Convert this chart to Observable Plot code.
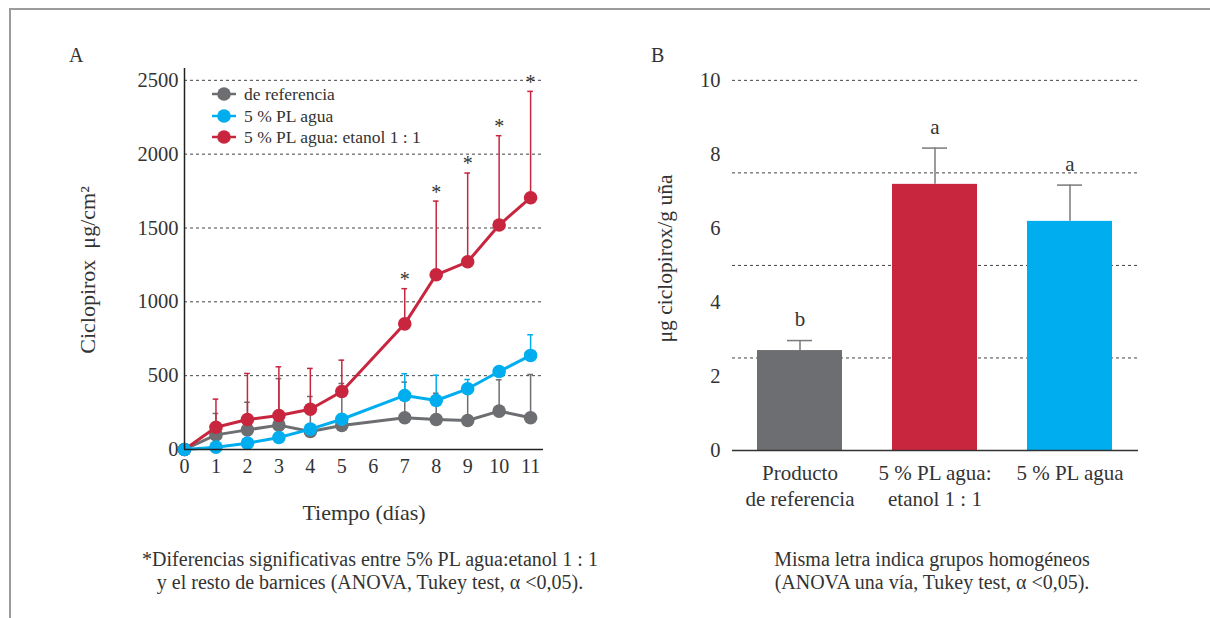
<!DOCTYPE html>
<html>
<head>
<meta charset="utf-8">
<script src="https://cdn.jsdelivr.net/npm/d3@7"></script>
<script src="https://cdn.jsdelivr.net/npm/@observablehq/plot@0.6"></script>
<style>
  html, body { margin: 0; padding: 0; background: #fff; }
  #fig { position: relative; width: 1210px; height: 618px; overflow: hidden;
         font-family: "Liberation Serif", "DejaVu Serif", serif; color: #333; }
  #fig .frame-top { position: absolute; left: 10px; top: 8px; width: 1200px; height: 2px; background: #9b9b9b; }
  #fig .frame-left { position: absolute; left: 9px; top: 8px; width: 2px; height: 610px; background: #9b9b9b; }
  .panel { position: absolute; top: 0; }
  .letter { position: absolute; font-size: 20px; }
  .caption { position: absolute; text-align: center; font-size: 20px; line-height: 23px; }
  #legend { position: absolute; left: 0; top: 0; }
</style>
</head>
<body>
<div id="fig">
  <div class="frame-top"></div>
  <div class="frame-left"></div>
  <div class="letter" style="left:69px; top:44px;">A</div>
  <div class="letter" style="left:651px; top:44px;">B</div>
  <div id="panelA" class="panel" style="left:0px;"></div>
  <div id="panelB" class="panel" style="left:610px;"></div>
  <svg id="legend" width="600" height="160"></svg>
  <div class="caption" style="left:100px; width:540px; top:548px;">*Diferencias significativas entre 5% PL agua:etanol 1 : 1<br>y el resto de barnices (ANOVA, Tukey test, α &lt;0,05).</div>
  <div class="caption" style="left:662px; width:540px; top:548px;">Misma letra indica grupos homogéneos<br>(ANOVA una vía, Tukey test, α &lt;0,05).</div>
</div>
<script>
// ---- Panel A: cumulative ciclopirox permeation (µg/cm²) over time ----
const days = [0, 1, 2, 3, 4, 5, 7, 8, 9, 10, 11];
const dayTicks = [0, 1, 2, 3, 4, 5, 6, 7, 8, 9, 10, 11];

const refMean   = [0, 99, 133, 165, 122, 163, 215, 203, 196, 260, 215];
const refUpper  = [0, 244, 320, 480, 359, 447, 456, 381, 400, 472, 508];

const aguaMean  = [0, 16, 43, 81, 138, 205, 366, 332, 411, 528, 637];
const aguaUpper = [0, 30, 60, 110, 170, 240, 513, 503, 474, 560, 777];

const etOHMean  = [0, 151, 203, 230, 273, 393, 851, 1183, 1271, 1520, 1705];
const etOHUpper = [0, 341, 515, 560, 549, 605, 1089, 1682, 1872, 2125, 2425];

const significantDays = [7, 8, 9, 10, 11];
const gridA = [500, 1000, 1500, 2000, 2500];
const ticksA = [0, 500, 1000, 1500, 2000, 2500];

const seriesA = [
  {name: "de referencia", color: "#6d6e71", mean: refMean, upper: refUpper},
  {name: "5 % PL agua", color: "#00aeef", mean: aguaMean, upper: aguaUpper},
  {name: "5 % PL agua: etanol 1 : 1", color: "#c8263e", mean: etOHMean, upper: etOHUpper}
];
const titleXA = "Tiempo (días)";
const titleYA = "Ciclopirox  μg/cm²";

// ---- Panel B: ciclopirox retained in the nail (µg/g) ----
const products = ["Producto\nde referencia", "5 % PL agua:\netanol 1 : 1", "5 % PL agua"];
const productColors = ["#6d6e71", "#c8263e", "#00aeef"];
const nailMean  = [2.70, 7.19, 6.19];
const nailUpper = [2.97, 8.17, 7.17];
const groupLetters = ["b", "a", "a"];
const gridB = [2.5, 5, 7.5, 10];
const ticksB = [0, 2, 4, 6, 8, 10];
const titleYB = "μg ciclopirox/g uña";

const font = '"Liberation Serif", "DejaVu Serif", serif';
const ink = "#333";
const plain = d => String(d);
const title = {fill: ink, fontFamily: font, textAnchor: "middle", lineAnchor: "middle"};

// tidy rows per series
const rows = s => days.map((d, i) => ({series: s.name, day: d, mean: s.mean[i], upper: s.upper[i]}));
const byName = Object.fromEntries(seriesA.map(s => [s.name, rows(s)]));
const capHalf = 0.09;

function errorMarks(s, width) {
  const r = byName[s.name].filter(d => d.upper > d.mean);
  return [
    Plot.ruleX(r, {x: "day", y1: "mean", y2: "upper", stroke: s.color, strokeWidth: width}),
    Plot.ruleY(r, {x1: d => d.day - capHalf, x2: d => d.day + capHalf, y: "upper", stroke: s.color, strokeWidth: width})
  ];
}
function lineMarks(s) {
  const r = byName[s.name];
  return [
    Plot.line(r, {x: "day", y: "mean", stroke: s.color, strokeWidth: 3}),
    Plot.dot(r, {x: "day", y: "mean", fill: s.color, r: 6.8})
  ];
}
const [sRef, sAgua, sEt] = seriesA;

const chartA = Plot.plot({
  width: 600, height: 540,
  marginLeft: 184, marginRight: 57, marginTop: 68, marginBottom: 91,
  style: {fontFamily: font, color: ink, background: "transparent", overflow: "visible"},
  x: {domain: [0, 11.41], ticks: dayTicks},
  y: {domain: [0, 2580]},
  marks: [
    Plot.ruleY(gridA, {stroke: "#444", strokeWidth: 1, strokeDasharray: "3,3"}),
    ...errorMarks(sRef, 1.5),
    ...errorMarks(sAgua, 1.5),
    ...errorMarks(sEt, 1.5),
    ...lineMarks(sRef),
    ...lineMarks(sEt),
    ...lineMarks(sAgua),
    Plot.text(byName[sEt.name].filter(d => significantDays.includes(d.day)),
      {x: "day", y: "upper", text: () => "*", dy: -9, fontSize: 20, fill: ink, fontFamily: font}),
    Plot.ruleY([0], {stroke: "#222", strokeWidth: 1.5}),
    Plot.ruleX([0], {stroke: "#222", strokeWidth: 1.5}),
    Plot.axisX({ticks: dayTicks, tickFormat: plain, tickSize: 0, tickPadding: 9, fontSize: 20, fontFamily: font, label: null}),
    Plot.axisY({ticks: ticksA, tickFormat: plain, tickSize: 0, tickPadding: 6, fontSize: 20.5, fontFamily: font, label: null}),
    // axis titles
    Plot.text([titleXA], {...title, frameAnchor: "bottom", dy: 63, fontSize: 22}),
    Plot.text([titleYA], {...title, frameAnchor: "left", dx: -97, dy: 11, rotate: -90, fontSize: 22})
  ]
});
document.getElementById("panelA").appendChild(chartA);

// legend for panel A
const leg = d3.select("#legend");
const legRows = [94, 116, 137];
seriesA.forEach((s, i) => {
  const g = leg.append("g").attr("transform", `translate(0,${legRows[i]})`);
  g.append("line").attr("x1", 212).attr("x2", 236).attr("y1", 0).attr("y2", 0)
    .attr("stroke", s.color).attr("stroke-width", 2.5);
  g.append("circle").attr("cx", 224).attr("cy", 0).attr("r", 6.8).attr("fill", s.color);
  g.append("text").attr("x", 244).attr("y", 0).attr("dy", "0.35em")
    .attr("font-family", font).attr("font-size", 17.5).attr("fill", ink).text(s.name);
});

// Panel B bars
const bars = products.map((p, i) => ({product: p, mean: nailMean[i], upper: nailUpper[i], letter: groupLetters[i], color: productColors[i]}));
const chartB = Plot.plot({
  width: 600, height: 540,
  marginLeft: 122, marginRight: 72, marginTop: 68, marginBottom: 90,
  style: {fontFamily: font, color: ink, background: "transparent", overflow: "visible"},
  x: {domain: products, paddingInner: 0.37, paddingOuter: 0.185},
  y: {domain: [0, 10.32]},
  marks: [
    Plot.ruleY(gridB, {stroke: "#444", strokeWidth: 1, strokeDasharray: "3,3"}),
    Plot.barY(bars, {x: "product", y: "mean", fill: "color"}),
    Plot.ruleX(bars, {x: "product", y1: "mean", y2: "upper", stroke: "#7a7a7a", strokeWidth: 1.5}),
    Plot.tickY(bars, {x: "product", y: "upper", stroke: "#7a7a7a", strokeWidth: 1.5, insetLeft: 30, insetRight: 30}),
    Plot.text(bars, {x: "product", y: "upper", text: "letter", dy: -21, fontSize: 21, fill: ink, fontFamily: font}),
    Plot.ruleY([0], {stroke: "#333", strokeWidth: 1.5}),
    Plot.ruleX([0], {x: () => 0, frameAnchor: "left", stroke: "#333", strokeWidth: 1.5}),
    Plot.axisX({tickSize: 0, tickPadding: 12, fontSize: 21, fontFamily: font, lineHeight: 1.2, label: null}),
    Plot.axisY({ticks: ticksB, tickFormat: plain, tickSize: 0, tickPadding: 12, fontSize: 20.5, fontFamily: font, label: null}),
    Plot.text([titleYB], {...title, frameAnchor: "left", dx: -67, dy: -1, rotate: -90, fontSize: 21.5})
  ]
});
document.getElementById("panelB").appendChild(chartB);
</script>
</body>
</html>
